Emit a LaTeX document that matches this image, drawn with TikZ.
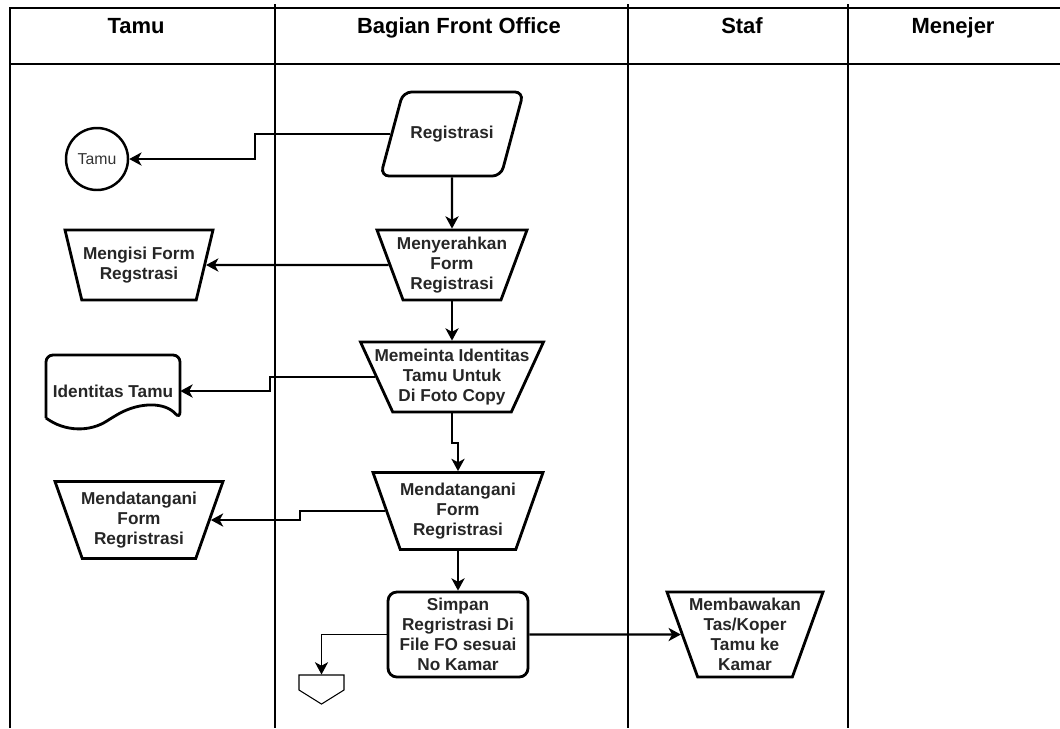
\documentclass[tikz,border=0pt]{standalone}
\usepackage{fontspec}
\setmainfont{Liberation Sans}
\usetikzlibrary{shapes.geometric, shapes.symbols, arrows.meta}

\newcommand{\tline}[1]{\makebox[0pt]{#1}}

\tikzset{
	lane/.style={line width=1pt},
	head/.style={font=\fontsize{12.5}{15}\selectfont\bfseries, anchor=base},
	txt/.style={font=\fontsize{9.8}{11.3}\selectfont\bfseries, text=black!85, align=center},
	manual/.style={txt, draw, line width=1.6pt, trapezium, shape border rotate=180,
		trapezium stretches body=true, inner sep=0pt, trapezium angle=64},
	flow/.style={line width=1.2pt, -{Stealth[length=7pt, width=7.5pt, inset=2pt]}},
}

\begin{document}
\begin{tikzpicture}[x=0.02cm, y=-0.02cm]
			\useasboundingbox (0, 0) rectangle (1060, 728);
			\draw[lane] (10, 728) -- (10, 8) -- (1060, 8);
			\draw[lane, line width=1.4pt] (10, 64) -- (1060, 64);
			\foreach \x in {275, 628, 848}
				\draw[lane] (\x, 4) -- (\x, 728);
			\node[head] (hTamu) at (136, 33) {Tamu};
			\node[head] (hFO) at (459, 33) {Bagian Front Office};
			\node[head] (hStaf) at (742, 33) {Staf};
			\node[head] (hMgr) at (953, 33) {Menejer};

			\node[draw, circle, line width=1.4pt, minimum size=1.24cm, inner sep=0pt,
				font=\fontsize{9}{11}\selectfont, text=black!80] (tamu) at (97, 159) {Tamu};
			\node[txt, draw, line width=1.6pt, trapezium, trapezium left angle=75, trapezium right angle=105,
				trapezium stretches body=true, rounded corners=5pt, minimum width=2.86cm, inner ysep=0.68cm]
				(reg) at (452, 134) {Registrasi};
			\node[manual, minimum width=3cm, minimum height=1.4cm, trapezium angle=65]
				(serah) at (452, 265) {\tline{Menyerahkan}\\\tline{Form}\\\tline{Registrasi}};
			\node[manual, minimum width=2.96cm, minimum height=1.4cm, trapezium angle=65]
				(isi) at (139, 265) {\tline{Mengisi Form}\\\tline{Regstrasi}};
			\node[manual, minimum width=3.66cm, minimum height=1.4cm, trapezium angle=60]
				(minta) at (452, 377) {\tline{Memeinta Identitas}\\\tline{Tamu Untuk}\\\tline{Di Foto Copy}};
			\node[txt, minimum width=2.68cm, minimum height=1.44cm] (idt) at (113, 391) {Identitas Tamu};
			\draw[line width=1.6pt, rounded corners=4pt] (46, 418) -- (46, 355) -- (180, 355) -- (180, 419)
				.. controls (165, 402) and (140, 402) .. (113, 417)
				.. controls (90, 432) and (65, 432) .. (46, 418);
			\node[manual, minimum width=3.4cm, minimum height=1.54cm]
				(tanda) at (458, 511) {\tline{Mendatangani}\\\tline{Form}\\\tline{Regristrasi}};
			\node[manual, minimum width=3.36cm, minimum height=1.54cm]
				(tandaT) at (139, 520) {\tline{Mendatangani}\\\tline{Form}\\\tline{Regristrasi}};
			\node[txt, draw, line width=1.6pt, rounded corners=5pt, minimum width=2.8cm, minimum height=1.7cm,
				inner sep=0pt] (simpan) at (458, 634.5) {Simpan\\Regristrasi Di\\File FO sesuai\\No Kamar};
			\node[manual, minimum width=3.12cm, minimum height=1.7cm, trapezium angle=67]
				(bawa) at (745, 634.5) {\tline{Membawakan}\\\tline{Tas/Koper}\\\tline{Tamu ke}\\\tline{Kamar}};
			\node[draw, line width=0.6pt, signal, signal to=south, signal pointer angle=116,
				minimum width=0.9cm, minimum height=0.3cm, inner sep=0pt] (opc) at (321.5, 682.5) {};

			\coordinate (k1) at (255, 0);
			\coordinate (k2) at (270, 0);
			\coordinate (k3) at (300, 0);
			\coordinate (k4) at (0, 443);
			\draw[flow] (reg.west) -- (reg.west -| k1) |- (tamu.east);
			\draw[flow] (reg.south) -- (serah.north);
			\draw[flow] (serah.west) -- (isi.east);
			\draw[flow] (serah.south) -- (minta.north);
			\draw[flow] (minta.west) -- (minta.west -| k2) |- (idt.east);
			\draw[flow] (minta.south) -- (minta.south |- k4) -| (tanda.north);
			\draw[flow] (tanda.west) -- (tanda.west -| k3) |- (tandaT.east);
			\draw[flow] (tanda.south) -- (simpan.north);
			\draw[flow] (simpan.east) -- (bawa.west);
			\draw[flow, line width=0.7pt] (simpan.west) -| (opc.north);
		\end{tikzpicture}
\end{document}
